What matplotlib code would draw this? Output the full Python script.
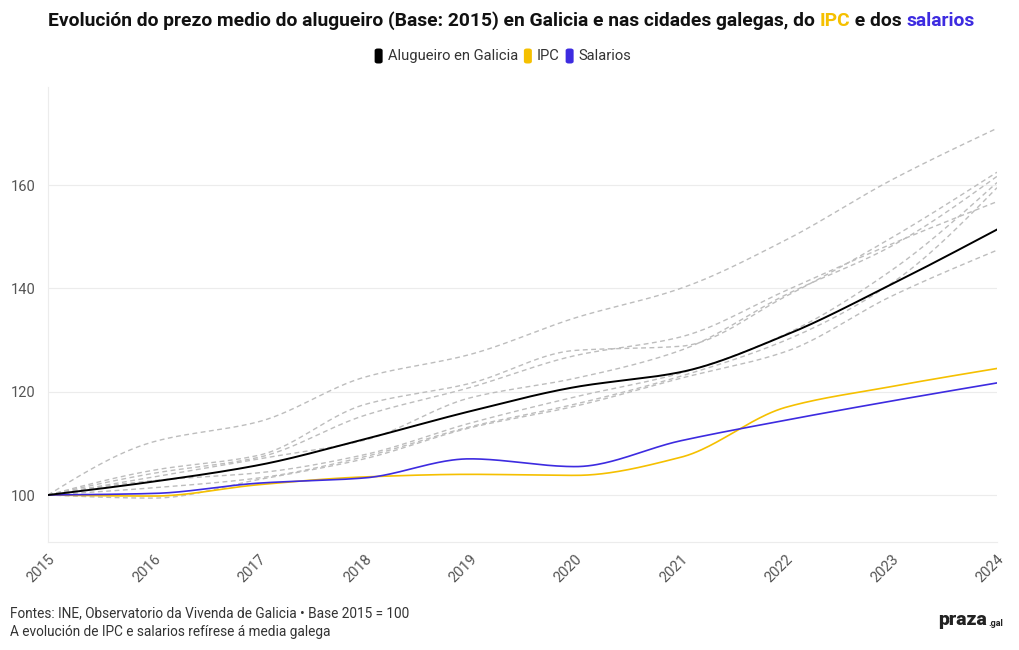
import numpy as np
import matplotlib
matplotlib.use("Agg")
import matplotlib.pyplot as plt
from matplotlib.patches import FancyBboxPatch

# ---------------- data ----------------
years = [2015, 2016, 2017, 2018, 2019, 2020, 2021, 2022, 2023, 2024]
galicia = [100, 102.6, 105.8, 110.8, 116.2, 120.9, 123.8, 131.0, 140.8, 151.4]
ipc = [100, 99.8, 102.0, 103.5, 104.0, 103.8, 107.3, 117.0, 121.0, 124.5]
salarios = [100, 100.3, 102.3, 103.3, 107.0, 105.5, 110.5, 114.5, 118.2, 121.7]
city_1 = [100, 110.3, 114.2, 122.8, 127.2, 134.3, 140.0, 149.4, 161.0, 171.0]
city_2 = [100, 104.8, 107.7, 117.5, 121.6, 128.0, 128.8, 138.5, 149.8, 162.5]
city_3 = [100, 104.2, 107.3, 115.4, 120.8, 127.0, 130.6, 139.6, 148.6, 156.8]
city_4 = [100, 103.5, 107.0, 110.6, 118.8, 122.6, 128.0, 138.8, 148.2, 161.7]
city_5 = [100, 102.8, 104.3, 107.8, 113.9, 119.0, 123.6, 131.2, 143.5, 160.5]
city_6 = [100, 101.4, 103.3, 107.4, 113.2, 117.6, 123.0, 130.0, 141.0, 159.5]
city_7 = [100, 99.4, 103.0, 107.0, 113.0, 117.2, 122.6, 127.8, 138.5, 147.4]
cities = [city_1, city_2, city_3, city_4, city_5, city_6, city_7]
yticks = [100, 120, 140, 160]

COL_BLACK = "#000000"
COL_IPC = "#f5c000"
COL_SAL = "#3d2be0"
COL_CITY = "#bdbdbd"


def monotone(x, y, n=400):
    x = np.asarray(x, float)
    y = np.asarray(y, float)
    h = np.diff(x)
    d = np.diff(y) / h
    m = np.zeros_like(y)
    for k in range(1, len(x) - 1):
        if d[k - 1] * d[k] <= 0:
            m[k] = 0.0
        else:
            w1 = 2 * h[k] + h[k - 1]
            w2 = h[k] + 2 * h[k - 1]
            m[k] = (w1 + w2) / (w1 / d[k - 1] + w2 / d[k])
    m[0] = (3 * d[0] - m[1]) / 2
    m[-1] = (3 * d[-1] - m[-2]) / 2
    xs = np.linspace(x[0], x[-1], n)
    idx = np.clip(np.searchsorted(x, xs) - 1, 0, len(x) - 2)
    t = (xs - x[idx]) / h[idx]
    h00 = 2 * t**3 - 3 * t**2 + 1
    h10 = t**3 - 2 * t**2 + t
    h01 = -2 * t**3 + 3 * t**2
    h11 = t**3 - t**2
    ys = h00 * y[idx] + h10 * h[idx] * m[idx] + h01 * y[idx + 1] + h11 * h[idx] * m[idx + 1]
    return xs, ys


plt.rcParams["font.family"] = ["Roboto", "DejaVu Sans"]

fig = plt.figure(figsize=(10.2, 6.5), dpi=100)
ax = fig.add_axes([48 / 1020, 1 - 542 / 650, (997 - 48) / 1020, (542 - 87) / 650])

for c in cities:
    xs, ys = monotone(years, c)
    ax.plot(xs, ys, color=COL_CITY, lw=1.0, ls=(0, (3.5, 2.5)), zorder=2)
xs, ys = monotone(years, ipc)
ax.plot(xs, ys, color=COL_IPC, lw=1.2, zorder=3)
xs, ys = monotone(years, salarios)
ax.plot(xs, ys, color=COL_SAL, lw=1.2, zorder=4)
xs, ys = monotone(years, galicia)
ax.plot(xs, ys, color=COL_BLACK, lw=1.4, zorder=5)

ax.set_xlim(years[0], years[-1])
ax.set_ylim(90.9, 179)
ax.set_yticks(yticks)
ax.set_xticks(years)
ax.set_xticklabels([str(y) for y in years], rotation=45, ha="right",
                   rotation_mode="anchor", fontsize=10.5, color="#555555")
ax.tick_params(axis="y", length=0, pad=9, labelsize=10.5, labelcolor="#555555")
ax.tick_params(axis="x", length=0, pad=7)
ax.grid(axis="y", color="#ececec", lw=0.8)
for s in ["top", "right"]:
    ax.spines[s].set_visible(False)
for s in ["left", "bottom"]:
    ax.spines[s].set_color("#ececec")
    ax.spines[s].set_linewidth(0.8)

# ---------------- title with coloured words ----------------
renderer = fig.canvas.get_renderer()
pieces = [("Evolución do prezo medio do alugueiro (Base: 2015) en Galicia e nas cidades galegas, do ", "#111111"),
          ("IPC", COL_IPC), (" e dos ", "#111111"), ("salarios", COL_SAL)]
tfs = 13.9
texts = []
for s, col in pieces:
    t = fig.text(0, 1 - 21 / 650, s, fontsize=tfs, fontweight="bold", color=col, va="center", ha="left")
    texts.append(t)
widths = [t.get_window_extent(renderer).width for t in texts]
total = sum(widths)
x0 = (511 - total / 2)
for t, w in zip(texts, widths):
    t.set_x(x0 / 1020)
    x0 += w

# ---------------- legend ----------------
leg = [("Alugueiro en Galicia", COL_BLACK), ("IPC", COL_IPC), ("Salarios", COL_SAL)]
lfs = 10.6
ly = 1 - 56 / 650
ltexts = []
for s, col in leg:
    ltexts.append(fig.text(0, ly, s, fontsize=lfs, color="#333333", va="center", ha="left"))
lw_ = [t.get_window_extent(renderer).width for t in ltexts]
sq = 10
gap1 = 3
gap2 = 6
tot = sum(sq + gap1 + w for w in lw_) + gap2 * (len(lw_) - 1)
x = 503 - tot / 2
for (s, col), t, w in zip(leg, ltexts, lw_):
    fig.patches.append(FancyBboxPatch((x / 1020, ly - 7.5 / 650), (sq - 2) / 1020, 15 / 650,
                                      boxstyle="round,pad=0,rounding_size=0.003",
                                      transform=fig.transFigure, facecolor=col, edgecolor="none"))
    t.set_x((x + sq + gap1) / 1020)
    x += sq + gap1 + w + gap2

# ---------------- footer ----------------
fig.text(10 / 1020, 1 - 613 / 650, "Fontes: INE, Observatorio da Vivenda de Galicia • Base 2015 = 100",
         fontsize=9.8, color="#333333", va="center", ha="left")
fig.text(10 / 1020, 1 - 632 / 650, "A evolución de IPC e salarios refírese á media galega",
         fontsize=9.8, color="#333333", va="center", ha="left")
fig.text(938 / 1020, 1 - 620 / 650, "praza", fontsize=14, fontweight="heavy", color="#222222",
         va="center", ha="left")
fig.text(988 / 1020, 1 - 623 / 650, ".gal", fontsize=6.5, fontweight="bold", color="#222222",
         va="center", ha="left")

fig.savefig("out.png", dpi=100, facecolor="white")
